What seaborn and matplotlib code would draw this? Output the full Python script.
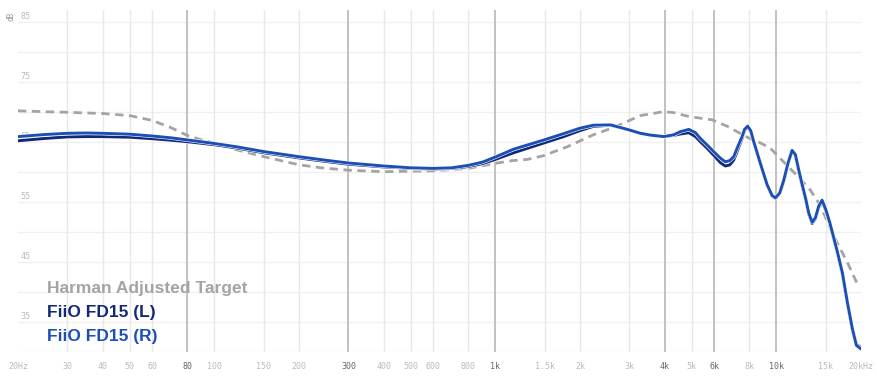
import numpy as np
import pandas as pd
import matplotlib
matplotlib.use("Agg")
import matplotlib.pyplot as plt
import matplotlib.patheffects as pe
from matplotlib.ticker import NullLocator
from matplotlib.transforms import blended_transform_factory
import seaborn as sns

# ---------------- data ----------------
freq_fd15 = [20, 25, 30, 35, 40, 50, 60, 70, 80, 100, 120, 150, 200, 250, 300,
             400, 500, 600, 700, 800, 900, 1000, 1160, 1480, 1750, 2000, 2230,
             2570, 2950, 3280, 3560, 3970, 4310, 4550, 4880, 5150, 5360, 5670,
             5980, 6320, 6580, 6820, 7050, 7280, 7550, 7700, 7900, 8100, 8300,
             8760, 9265, 9650, 9920, 10270, 10600, 11000, 11370, 11680, 12000,
             12350, 12690, 13030, 13400, 13770, 14140, 14540, 15000, 15500,
             16400, 17170, 17900, 18650, 19260, 20000]
fd15_left = [65.2, 65.6, 65.85, 65.9, 65.9, 65.8, 65.55, 65.3, 65.05, 64.55,
             64.0, 63.2, 62.35, 61.75, 61.3, 60.85, 60.6, 60.5, 60.6, 60.9,
             61.4, 62.1, 63.2, 64.8, 65.9, 66.9, 67.6, 67.8, 67.1, 66.45, 66.15,
             65.9, 66.1, 66.33, 66.55, 65.9, 65.05, 63.95, 62.8, 61.55, 61.0,
             61.17, 62.0, 63.67, 65.6, 66.9, 67.55, 66.8, 65.0, 61.4, 57.8,
             56.0, 55.6, 56.4, 58.3, 61.4, 63.5, 62.8, 60.2, 57.7, 55.5, 53.0,
             51.4, 52.2, 54.1, 55.1, 53.5, 51.3, 46.9, 43.0, 38.0, 33.6, 31.3,
             30.7]
fd15_right = [65.9, 66.25, 66.45, 66.5, 66.45, 66.3, 66.0, 65.7, 65.35, 64.75,
              64.2, 63.4, 62.55, 61.95, 61.5, 61.0, 60.7, 60.6, 60.7, 61.1,
              61.65, 62.5, 63.8, 65.3, 66.4, 67.3, 67.8, 67.85, 67.1, 66.45,
              66.15, 65.9, 66.2, 66.72, 67.1, 66.55, 65.6, 64.5, 63.4, 62.3,
              61.7, 61.9, 62.55, 64.2, 65.9, 67.1, 67.65, 66.9, 65.1, 61.5,
              57.9, 56.1, 55.7, 56.5, 58.5, 61.5, 63.6, 62.9, 60.4, 57.9, 55.7,
              53.2, 51.6, 52.4, 54.3, 55.3, 53.7, 51.5, 47.1, 43.2, 38.2, 33.8,
              31.1, 30.5]
freq_target = [20, 25, 30, 40, 50, 60, 70, 80, 90, 100, 120, 150, 200, 240, 300,
               400, 600, 800, 1000, 1150, 1300, 1480, 1800, 2230, 2630, 3280,
               3960, 4310, 4880, 5900, 6700, 7450, 8100, 8560, 9500, 10600,
               11900, 13200, 14300, 16000, 17900, 19600]
target = [70.2, 70.05, 69.95, 69.75, 69.4, 68.6, 67.4, 66.1, 65.35, 64.8, 63.7,
          62.55, 61.2, 60.7, 60.3, 60.05, 60.2, 60.6, 61.45, 61.9, 62.1, 62.7,
          64.2, 66.2, 67.4, 69.4, 70.05, 69.9, 69.25, 68.7, 67.6, 66.4, 65.5,
          65.1, 64.0, 61.7, 59.3, 57.0, 54.5, 49.3, 44.9, 40.9]

x_ticks = [20, 30, 40, 50, 60, 80, 100, 150, 200, 300, 400, 500, 600, 800,
           1000, 1500, 2000, 3000, 4000, 5000, 6000, 8000, 10000, 15000, 20000]
x_tick_labels = ["20Hz", "30", "40", "50", "60", "80", "100", "150", "200",
                 "300", "400", "500", "600", "800", "1k", "1.5k", "2k", "3k",
                 "4k", "5k", "6k", "8k", "10k", "15k", "20kHz"]
major_ticks = [80, 300, 1000, 4000, 6000, 10000]
y_grid = [30, 35, 40, 45, 50, 55, 60, 65, 70, 75, 80, 85]
y_labels = [85, 75, 65, 55, 45, 35]
legend_labels = ["Harman Adjusted Target", "FiiO FD15 (L)", "FiiO FD15 (R)"]

# ---------------- styling ----------------
c_target = "#a8a3a3"
c_left = "#142878"
c_right = "#1b4fb6"

sns.set_theme(style="white")
plt.rcParams["font.family"] = ["DejaVu Sans"]

fig = plt.figure(figsize=(8.77, 3.79), dpi=100)
fig.patch.set_facecolor("white")
ax = fig.add_axes([18 / 877, 1 - 352 / 379, (861 - 18) / 877, (352 - 10) / 379])
ax.set_facecolor("white")
ax.set_xscale("log")
ax.set_xlim(20, 20000)
ax.set_ylim(30, 87)
for s in ax.spines.values():
    s.set_visible(False)

# grid
for y in y_grid:
    ax.axhline(y, color="#f0f0f0", lw=1.0, zorder=0)
for t in x_ticks[1:-1]:
    if t in major_ticks:
        ax.axvline(t, color="#bcbcbc", lw=1.3, zorder=0)
    else:
        ax.axvline(t, color="#e8e8e8", lw=1.0, zorder=0)

# y labels inside the plot
tr = blended_transform_factory(ax.transAxes, ax.transData)
for v in y_labels:
    ax.text(0.0025, v + 0.15, str(v), transform=tr, fontsize=6,
            family="DejaVu Sans Mono", color="#bbbbbb", ha="left", va="bottom",
            zorder=0.5)
fig.text(11 / 877, 1 - 16 / 379, "dB", rotation=90, fontsize=5.5,
         family="DejaVu Sans Mono", color="#999999", ha="center", va="center")

# x ticks
ax.xaxis.set_minor_locator(NullLocator())
ax.set_xticks(x_ticks)
ax.set_xticklabels(x_tick_labels)
ax.tick_params(axis="x", length=0, pad=7, labelsize=6)
ax.tick_params(axis="y", left=False, labelleft=False)
for lab, t in zip(ax.get_xticklabels(), x_ticks):
    lab.set_family("DejaVu Sans Mono")
    lab.set_color("#666666" if t in major_ticks else "#bbbbbb")

# target
df_t = pd.DataFrame({"freq": freq_target, "spl": target})
sns.lineplot(data=df_t, x="freq", y="spl", color=c_target, lw=2.0, ax=ax,
             legend=False, zorder=2)
ax.lines[-1].set_dashes([3.0, 2.0])

halo = [pe.Stroke(linewidth=2.9, foreground="white"), pe.Normal()]
df_l = pd.DataFrame({"freq": freq_fd15, "spl": fd15_left})
df_r = pd.DataFrame({"freq": freq_fd15, "spl": fd15_right})
sns.lineplot(data=df_l, x="freq", y="spl", color=c_left, lw=2.1, ax=ax,
             legend=False, zorder=3, path_effects=halo,
             solid_joinstyle="round", solid_capstyle="round")
sns.lineplot(data=df_r, x="freq", y="spl", color=c_right, lw=2.1, ax=ax,
             legend=False, zorder=3.1, path_effects=halo,
             solid_joinstyle="round", solid_capstyle="round")
ax.set_xlabel("")
ax.set_ylabel("")

# legend-like labels
for txt, col, yb in zip(legend_labels, [c_target, c_left, c_right],
                        [293.3, 317.3, 341.0]):
    fig.text(47 / 877, 1 - yb / 379, txt, fontsize=12.5, fontweight="bold",
             family="Liberation Sans", color=col, ha="left", va="baseline")

fig.savefig("out.png", dpi=100, facecolor="white")
